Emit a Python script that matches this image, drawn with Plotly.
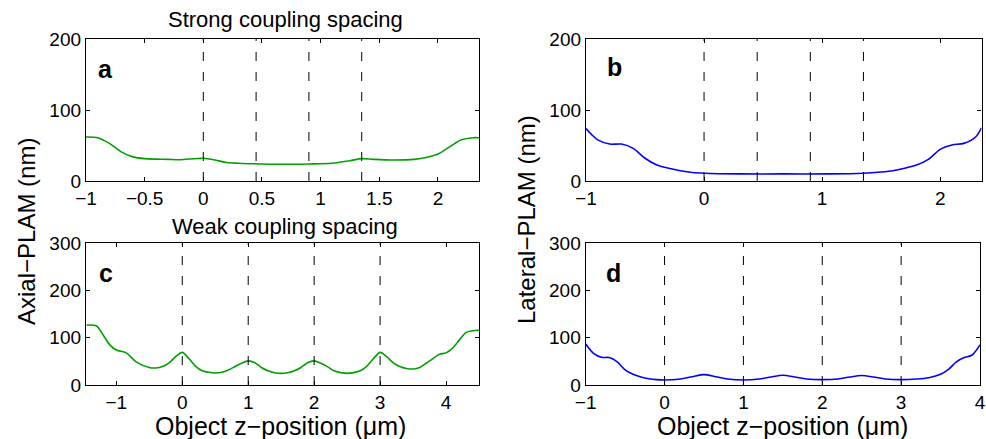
import plotly.graph_objects as go

# ---------------- data ----------------
# Panel a: strong coupling, axial (green)
a_x = [-1.0, -0.9, -0.8, -0.7, -0.6, -0.5, -0.3, -0.2, 0.0, 0.1, 0.2, 0.3, 0.5, 0.7, 0.9, 1.1, 1.25, 1.35, 1.45, 1.6, 1.8, 1.9, 2.0, 2.1, 2.2, 2.3, 2.35]
a_y = [62, 61, 53, 41, 34, 31.5, 30.5, 30, 32, 29.6, 26, 25, 24, 23.5, 24, 25, 28.6, 31.5, 30.5, 29.6, 30.5, 33, 38, 48, 58, 61, 61]

# Panel b: strong coupling, lateral (blue)
b_x = [-1.0, -0.95, -0.9, -0.8, -0.7, -0.6, -0.5, -0.4, -0.3, -0.2, -0.1, 0.0, 0.3, 0.675, 1.05, 1.35, 1.5, 1.6, 1.7, 1.8, 1.9, 2.0, 2.1, 2.2, 2.3, 2.35]
b_y = [74, 65, 58, 52, 52, 46, 32, 22.5, 18, 14.5, 12, 11, 10, 10, 10, 11, 12.7, 14.5, 18, 22.5, 30.5, 44.6, 50.7, 53, 62, 75]

# Panel c: weak coupling, axial (green)
c_x = [-1.45, -1.3, -1.2, -1.1, -1.0, -0.85, -0.7, -0.5, -0.4, -0.3, -0.2, -0.1, 0.0, 0.1, 0.2, 0.3, 0.4, 0.5, 0.6, 0.7, 0.8, 0.9, 1.0,
       1.1, 1.2, 1.3, 1.4, 1.5, 1.6, 1.7, 1.8, 1.9, 2.0, 2.1, 2.2, 2.3, 2.5, 2.7, 2.8, 2.9, 3.0, 3.1, 3.2, 3.3, 3.4, 3.5, 3.6, 3.7,
       3.8, 3.9, 4.0, 4.1, 4.2, 4.3, 4.4, 4.5]
c_y = [127, 125, 106, 85, 74, 68, 49, 37, 36, 39, 47, 60, 69, 56, 40, 30, 27, 25.5, 27, 32, 39, 46, 51,
       47, 37, 30, 26, 24.7, 26, 30, 37, 47, 51, 46, 39, 30, 24.7, 30, 40, 56, 69, 60, 47, 39, 35, 34, 37, 46,
       56, 65, 68, 78, 95, 111, 115, 116]

# Panel d: weak coupling, lateral (blue)
d_x = [-1.0, -0.9, -0.8, -0.7, -0.6, -0.5, -0.4, -0.3, -0.2, -0.1, 0.0, 0.2, 0.35, 0.5, 0.65, 0.8, 1.0, 1.2, 1.35, 1.5, 1.65, 1.8,
       2.0, 2.2, 2.35, 2.5, 2.65, 2.8, 3.0, 3.2, 3.35, 3.5, 3.6, 3.7, 3.8, 3.9, 4.0]
d_y = [87, 67, 58.6, 58, 49, 32, 22.6, 17, 13.4, 11.3, 10.6, 12.7, 17.6, 22, 17.6, 12.7, 10.6, 12.7, 17, 20.5, 17, 12.7,
       11.3, 12.7, 17, 20, 17, 12.7, 11.3, 12.7, 15.5, 22.6, 33, 49, 58, 63.5, 85]

strong_spacers = [0, 0.45, 0.9, 1.35]
weak_spacers = [0, 1, 2, 3]

a_ticks = [-1, -0.5, 0, 0.5, 1, 1.5, 2]
b_ticks = [-1, 0, 1, 2]
c_ticks = [-1, 0, 1, 2, 3, 4]
d_ticks = [-1, 0, 1, 2, 3, 4]
top_yticks = [0, 100, 200]
bot_yticks = [0, 100, 200, 300]

titles = ["Strong coupling spacing", "Weak coupling spacing"]
letters = ["a", "b", "c", "d"]
ylab_left = "Axial\u2212PLAM (nm)"
ylab_right = "Lateral\u2212PLAM (nm)"
xlab = "Object z\u2212position (\u03bcm)"

GREEN = "rgb(0,160,0)"
BLUE = "rgb(0,0,255)"
FONT = "Liberation Sans, Arial, Helvetica, sans-serif"

W, H = 986, 439

def px_dom_x(l, r):
    return [l / W, r / W]

def px_dom_y(t, b):
    return [1 - b / H, 1 - t / H]

panels = [
    dict(x=a_x, y=a_y, c=GREEN, xr=[-1, 2.35], yr=[0, 200], xt=a_ticks, yt=top_yticks, sp=strong_spacers,
         dx=px_dom_x(86, 479), dy=px_dom_y(39, 181)),
    dict(x=b_x, y=b_y, c=BLUE, xr=[-1, 2.35], yr=[0, 200], xt=b_ticks, yt=top_yticks, sp=strong_spacers,
         dx=px_dom_x(586, 981.5), dy=px_dom_y(39, 181)),
    dict(x=c_x, y=c_y, c=GREEN, xr=[-1.46, 4.5], yr=[0, 300], xt=c_ticks, yt=bot_yticks, sp=weak_spacers,
         dx=px_dom_x(86, 479), dy=px_dom_y(243.3, 385)),
    dict(x=d_x, y=d_y, c=BLUE, xr=[-1, 4], yr=[0, 300], xt=d_ticks, yt=bot_yticks, sp=weak_spacers,
         dx=px_dom_x(585.7, 980), dy=px_dom_y(243.3, 385)),
]

fig = go.Figure()
layout = dict(
    template="none",
    width=W, height=H, autosize=False,
    margin=dict(l=0, r=0, t=0, b=0, pad=0),
    paper_bgcolor="white", plot_bgcolor="white",
    showlegend=False,
    font=dict(family=FONT, color="black", size=19),
)
annotations = []
shapes = []
letter_pos = [(0.025, 0.79), (0.048, 0.80), (0.028, 0.79), (0.046, 0.79)]

for i, p in enumerate(panels):
    n = "" if i == 0 else str(i + 1)
    xa, ya = "x" + n, "y" + n
    fig.add_trace(go.Scatter(x=p["x"], y=p["y"], mode="lines", xaxis=xa, yaxis=ya,
                             line=dict(color=p["c"], width=1.6, shape="spline", smoothing=0.8),
                             hoverinfo="skip"))
    common = dict(showline=True, linecolor="black", linewidth=1.3, mirror="ticks",
                  ticks="inside", ticklen=4, tickwidth=1, tickcolor="black", automargin=False,
                  showgrid=False, zeroline=False, tickfont=dict(size=19, family=FONT))
    layout["xaxis" + n] = dict(domain=p["dx"], range=p["xr"], tickvals=p["xt"], anchor=ya, **common)
    layout["yaxis" + n] = dict(domain=p["dy"], range=p["yr"], tickvals=p["yt"], anchor=xa, **common)
    for s in p["sp"]:
        shapes.append(dict(type="line", xref=xa, yref=ya + " domain", x0=s, x1=s, y0=0, y1=1,
                           line=dict(color="black", width=1, dash="9px,11px")))
    lx, ly = letter_pos[i]
    annotations.append(dict(text="<b>%s</b>" % letters[i], xref=xa + " domain", yref=ya + " domain",
                            x=lx, y=ly, xanchor="left", yanchor="middle", showarrow=False,
                            font=dict(size=25, family=FONT)))

# titles
annotations.append(dict(text=titles[0], xref="paper", yref="paper", x=285 / W, y=1 - 20 / H,
                        xanchor="center", yanchor="middle", showarrow=False, font=dict(size=22)))
annotations.append(dict(text=titles[1], xref="paper", yref="paper", x=285 / W, y=1 - 226 / H,
                        xanchor="center", yanchor="middle", showarrow=False, font=dict(size=22)))
# axis titles
annotations.append(dict(text=ylab_left, xref="paper", yref="paper", x=26 / W, y=1 - 232 / H,
                        xanchor="center", yanchor="middle", showarrow=False, textangle=-90,
                        font=dict(size=24)))
annotations.append(dict(text=ylab_right, xref="paper", yref="paper", x=526 / W, y=1 - 220 / H,
                        xanchor="center", yanchor="middle", showarrow=False, textangle=-90,
                        font=dict(size=24)))
annotations.append(dict(text=xlab, xref="paper", yref="paper", x=280 / W, y=1 - 426 / H,
                        xanchor="center", yanchor="middle", showarrow=False, font=dict(size=25)))
annotations.append(dict(text=xlab, xref="paper", yref="paper", x=782 / W, y=1 - 426 / H,
                        xanchor="center", yanchor="middle", showarrow=False, font=dict(size=25)))

layout["annotations"] = annotations
layout["shapes"] = shapes
fig.update_layout(**layout)
fig.write_html("out.html", config={"displayModeBar": False},
               post_script="document.body.style.margin='0';document.body.style.overflow='hidden';")
